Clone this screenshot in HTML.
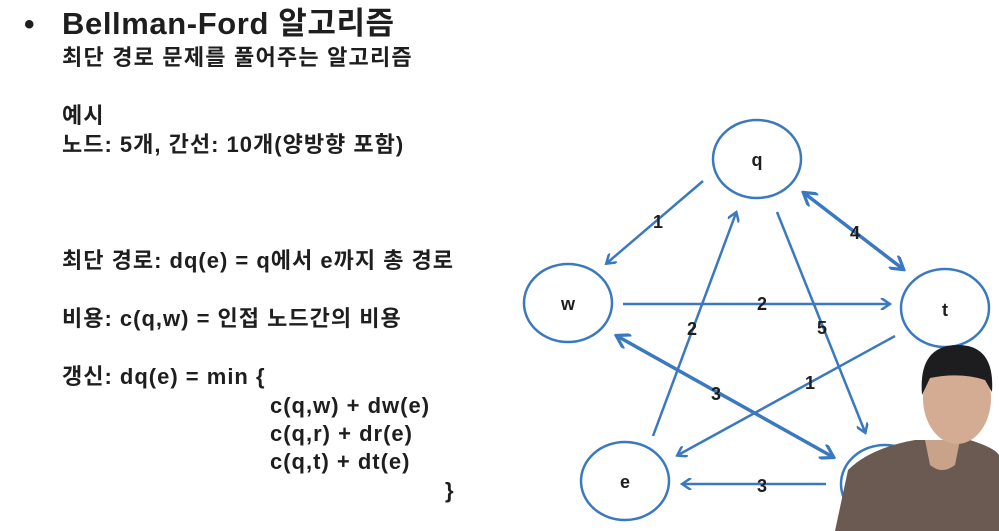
<!DOCTYPE html>
<html><head><meta charset="utf-8"><style>
body{margin:0;width:999px;height:531px;background:#fff;overflow:hidden;position:relative;font-family:"Liberation Sans","Noto Sans CJK KR",sans-serif;color:#1e1e1e;font-weight:bold}
.t{position:absolute;white-space:nowrap;line-height:1}
.s{font-size:22px;letter-spacing:1px}
</style></head><body>
<div class="t" style="left:24px;top:10px;font-size:30px">•</div>
<div class="t" style="left:62px;top:8px;font-size:31px;letter-spacing:0.6px">Bellman-Ford 알고리즘</div>
<div class="t s" style="left:62px;top:47px;letter-spacing:1.2px">최단 경로 문제를 풀어주는 알고리즘</div>
<div class="t s" style="left:62px;top:105px">예시</div>
<div class="t s" style="left:62px;top:134px">노드: 5개, 간선: 10개(양방향 포함)</div>
<div class="t s" style="left:62px;top:250px">최단 경로: dq(e) = q에서 e까지 총 경로</div>
<div class="t s" style="left:62px;top:308px">비용: c(q,w) = 인접 노드간의 비용</div>
<div class="t s" style="left:62px;top:366px">갱신: dq(e) = min {</div>
<div class="t s" style="left:270px;top:395px">c(q,w) + dw(e)</div>
<div class="t s" style="left:270px;top:423px">c(q,r) + dr(e)</div>
<div class="t s" style="left:270px;top:451px">c(q,t) + dt(e)</div>
<div class="t s" style="left:445px;top:480px">}</div>
<svg width="999" height="531" style="position:absolute;left:0;top:0">
<defs>
<marker id="a" markerWidth="12" markerHeight="12" refX="9" refY="6" orient="auto-start-reverse" markerUnits="userSpaceOnUse"><path d="M1,0 L10,6 L1,12" fill="none" stroke="#3a78c0" stroke-width="2.5"/></marker>
<marker id="b" markerWidth="16" markerHeight="16" refX="13" refY="8" orient="auto-start-reverse" markerUnits="userSpaceOnUse"><path d="M1,0 L14,8 L1,16" fill="none" stroke="#3a78c0" stroke-width="3.2"/></marker>
</defs>
<g fill="none" stroke="#3a78c0" stroke-width="2.5">
<ellipse cx="757" cy="159" rx="44" ry="39"/>
<ellipse cx="568" cy="303" rx="44" ry="39"/>
<ellipse cx="945" cy="308" rx="44" ry="39"/>
<ellipse cx="625" cy="481" rx="44" ry="39"/>
<ellipse cx="885" cy="484" rx="44" ry="39"/>
<line x1="703" y1="181" x2="607" y2="263" marker-end="url(#a)"/>
<line x1="804" y1="193" x2="903" y2="269" stroke-width="3.5" marker-start="url(#b)" marker-end="url(#b)"/>
<line x1="623" y1="304" x2="889" y2="304" marker-end="url(#a)"/>
<line x1="653" y1="436" x2="736" y2="213" marker-end="url(#a)"/>
<line x1="777" y1="212" x2="865" y2="432" marker-end="url(#a)"/>
<line x1="895" y1="336" x2="678" y2="455" marker-end="url(#a)"/>
<line x1="617" y1="336" x2="833" y2="457" stroke-width="3.5" marker-start="url(#b)" marker-end="url(#b)"/>
<line x1="826" y1="484" x2="683" y2="484" marker-end="url(#a)"/>
</g>
<g font-size="18" font-family="Liberation Sans,sans-serif" font-weight="bold" fill="#1e1e1e" text-anchor="middle">
<text x="757" y="166">q</text><text x="568" y="310">w</text><text x="945" y="316">t</text><text x="625" y="488">e</text>
<text x="658" y="228">1</text><text x="855" y="239">4</text><text x="762" y="310">2</text><text x="692" y="335">2</text>
<text x="822" y="334">5</text><text x="810" y="389">1</text><text x="716" y="400">3</text><text x="762" y="492">3</text>
</g>
<path d="M835,531 L848,470 Q870,448 915,440 L970,440 Q995,448 999,455 L999,531Z" fill="#6b5a52"/>
<path d="M925,440 L960,440 L955,465 Q942,475 930,465Z" fill="#c9a28a"/>
<ellipse cx="957" cy="398" rx="34" ry="46" fill="#d4ab93"/>
<path d="M922,395 Q918,345 958,345 Q995,345 992,392 L985,380 Q960,372 930,378Z" fill="#1d1d1f"/>
</svg>
</body></html>
